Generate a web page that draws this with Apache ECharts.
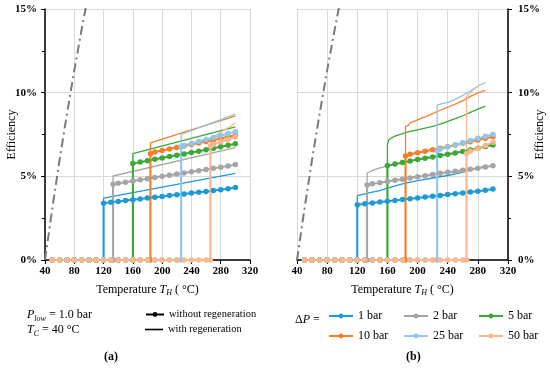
<!DOCTYPE html>
<html><head><meta charset="utf-8">
<script src="https://cdn.jsdelivr.net/npm/echarts@6/dist/echarts.min.js"></script>
<style>html,body{margin:0;padding:0;background:#fff}#c{width:550px;height:370px}</style>
</head><body><div id="c"></div>
<script>
const FONT = 'Liberation Serif';
const pressureNames = ['1 bar','2 bar','5 bar','10 bar','25 bar','50 bar'];
const pressureColors = ['#1e9bd7','#a5a5a5','#3aa935','#f57f29','#8fc6ec','#f9b78b'];
const tempSteps = [50,60,70,80,90,100,110,120,130,140,150,160,170,180,190,200,210,220,230,240,250,260,270,280,290,300];
const xTicks = [40,320,40];
const yTicks = [0,15,5];

// Carnot limit (dash-dot)
const carnotTemps = [40,50,60,70,80,90,100];
const carnotVals  = [0,3.09,6.00,8.74,11.33,13.77,16.08];

// ---- (a) thresholds & values (without regeneration: jump at threshold, then every 10 °C) ----
const thrA = [120,133,160,184,226,266];
const noRegenA1 = [3.39,3.45,3.50,3.55,3.60,3.65,3.70,3.75,3.80,3.85,3.90,3.95,4.00,4.05,4.10,4.15,4.20,4.26,4.33];
const noRegenA2 = [4.52,4.58,4.65,4.72,4.79,4.86,4.93,5.00,5.07,5.14,5.20,5.27,5.34,5.41,5.48,5.55,5.62,5.70];
const noRegenA3 = [5.76,5.85,5.93,6.02,6.10,6.18,6.26,6.34,6.42,6.50,6.59,6.68,6.77,6.86,6.95];
const noRegenA4 = [6.35,6.45,6.54,6.63,6.72,6.81,6.90,6.99,7.08,7.17,7.26,7.36,7.46];
const noRegenA5 = [6.77,6.85,6.96,7.08,7.20,7.32,7.44,7.56,7.67];
const noRegenA6 = [6.80,6.92,7.06,7.20,7.35];
// with regeneration (a): straight lines, threshold -> 300 °C
const regenTempsA = [[120,300],[133,300],[160,300],[184,300],[226,300],[266,300]];
const regenA1 = [3.70,5.18];
const regenA2 = [5.02,6.72];
const regenA3 = [6.35,7.95];
const regenA4 = [7.00,8.62];
const regenA5 = [7.50,8.72];
const regenA6 = [7.27,8.17];

// ---- (b) ----
const thrB = [120,133,160,184,226,265];
const noRegenB1 = [3.30,3.36,3.41,3.46,3.51,3.56,3.61,3.66,3.71,3.76,3.81,3.86,3.91,3.96,4.01,4.06,4.11,4.17,4.24];
const noRegenB2 = [4.48,4.55,4.62,4.69,4.76,4.83,4.90,4.97,5.04,5.11,5.18,5.25,5.31,5.37,5.43,5.49,5.56,5.63];
const noRegenB3 = [5.64,5.73,5.82,5.91,6.00,6.08,6.16,6.24,6.32,6.40,6.49,6.58,6.68,6.78,6.87];
const noRegenB4 = [6.22,6.32,6.41,6.50,6.59,6.68,6.77,6.87,6.97,7.07,7.17,7.27,7.37];
const noRegenB5 = [6.53,6.62,6.75,6.88,7.01,7.14,7.27,7.40,7.52];
const noRegenB6 = [6.37,6.50,6.66,6.84,7.03];
const regenTempsB1 = [120,130,140,150,160,180,200,220,240,260,280,290];
const regenB1      = [3.85,3.95,4.05,4.15,4.30,4.55,4.75,4.90,5.05,5.25,5.50,5.60];
const regenTempsB2 = [133,140,150,160,170,180,190,200,220,240,260,280,290];
const regenB2      = [5.20,5.35,5.50,5.62,5.72,5.82,5.91,6.00,6.16,6.32,6.49,6.68,6.78];
const regenTempsB3 = [160,162,170,180,190,200,210,220,230,240,250,260,270,280,290];
const regenB3      = [6.90,7.20,7.40,7.55,7.68,7.78,7.88,7.98,8.12,8.28,8.45,8.62,8.82,9.02,9.20];
const regenTempsB4 = [184,188,190,200,210,220,230,240,250,260,270,280,290];
const regenB4      = [8.00,8.05,8.20,8.38,8.55,8.75,8.95,9.13,9.32,9.52,9.78,9.98,10.14];
const regenTempsB5 = [226,230,240,250,260,270,280,290];
const regenB5      = [9.26,9.32,9.42,9.60,9.84,10.10,10.40,10.62];
const regenTempsB6 = [265,270,275,280];
const regenB6      = [9.80,10.00,10.20,10.38];

function buildNoRegen(thr, vals){
  const d = [];
  tempSteps.forEach(t => { if (t < thr) d.push([t,0]); });
  d.push([thr,0]); d.push([thr, vals[0]]);
  let k = 1;
  tempSteps.forEach(t => { if (t > thr && k < vals.length) d.push([t, vals[k++]]); });
  return d;
}
function buildRegen(temps, vals){
  const d = [[temps[0],0]];
  temps.forEach((t,i) => d.push([t, vals[i]]));
  return d;
}

const noRegenA = [noRegenA1,noRegenA2,noRegenA3,noRegenA4,noRegenA5,noRegenA6];
const regenA = [regenA1,regenA2,regenA3,regenA4,regenA5,regenA6];
const noRegenB = [noRegenB1,noRegenB2,noRegenB3,noRegenB4,noRegenB5,noRegenB6];
const regenB = [regenB1,regenB2,regenB3,regenB4,regenB5,regenB6];
const regenTempsB = [regenTempsB1,regenTempsB2,regenTempsB3,regenTempsB4,regenTempsB5,regenTempsB6];

const series = [];
[0,1].forEach(g => {
  const thr = g===0 ? thrA : thrB;
  const nr = g===0 ? noRegenA : noRegenB;
  const rg = g===0 ? regenA : regenB;
  const rt = g===0 ? regenTempsA : regenTempsB;
  pressureNames.forEach((n,i) => {
    series.push({type:'line', name:n+' regen', xAxisIndex:g, yAxisIndex:g, data: buildRegen(rt[i], rg[i]),
      symbol:'none', lineStyle:{color:pressureColors[i], width:1.3}, itemStyle:{color:pressureColors[i]}, z:2, animation:false});
  });
  pressureNames.forEach((n,i) => {
    series.push({type:'line', name:n, xAxisIndex:g, yAxisIndex:g, data: buildNoRegen(thr[i], nr[i]),
      symbol:'circle', symbolSize:5.5, showAllSymbol:true, lineStyle:{color:pressureColors[i], width:2},
      itemStyle:{color:pressureColors[i]}, z:3, animation:false});
  });
  series.push({type:'line', name:'Carnot'+g, xAxisIndex:g, yAxisIndex:g, data: carnotTemps.map((t,i)=>[t,carnotVals[i]]),
    symbol:'none', lineStyle:{color:'#7a7a7a', width:2, type:[9,4,2,4]}, z:4, animation:false});
});
series.push({type:'line', name:'without regeneration', xAxisIndex:0, yAxisIndex:0, data:[], symbol:'circle', symbolSize:5,
  lineStyle:{color:'#000', width:2}, itemStyle:{color:'#000'}});
series.push({type:'line', name:'with regeneration', xAxisIndex:0, yAxisIndex:0, data:[], symbol:'none',
  lineStyle:{color:'#000', width:1.5}, itemStyle:{color:'#000'}});

const nameRich = {
  a:{fontFamily:FONT, fontSize:12, color:'#000'},
  i:{fontFamily:FONT, fontSize:12, fontStyle:'italic', color:'#000'},
  s:{fontFamily:FONT, fontSize:8, fontStyle:'italic', color:'#000', padding:[7,0,0,0]}
};
function xAxis(g){
  return {type:'value', gridIndex:g, min:xTicks[0], max:xTicks[1], interval:xTicks[2],
    name:'{a|Temperature }{i|T}{s|H}{a| ( °C)}', nameLocation:'middle', nameGap:22,
    nameTextStyle:{rich:nameRich},
    axisLine:{show:true, onZero:true, lineStyle:{color:'#000', width:1.5}},
    axisTick:{show:true, length:4, lineStyle:{color:'#000'}},
    axisLabel:{fontFamily:FONT, fontWeight:'bold', fontSize:11, color:'#000', margin:6},
    splitLine:{show:true, lineStyle:{color:'#d9d9d9', width:1}}};
}
function yAxis(g){
  return {type:'value', gridIndex:g, min:yTicks[0], max:yTicks[1], interval:yTicks[2], position: g===0?'left':'right',
    name:'Efficiency', nameLocation:'middle', nameRotate:90, nameGap: g===0?27:26,
    nameMoveOverlap:false,
    nameTextStyle:{fontFamily:FONT, fontSize:12, color:'#000'},
    axisLine:{show:true, lineStyle:{color:'#000', width:1.5}},
    axisTick:{show:true, length:4, lineStyle:{color:'#000'}},
    minorTick:{show:true, splitNumber:2, length:3, lineStyle:{color:'#000'}},
    axisLabel:{formatter:'{value}%', fontFamily:FONT, fontWeight:'bold', fontSize:11, color:'#000', margin: g===0?8:10},
    splitLine:{show:true, lineStyle:{color:'#d9d9d9', width:1}}};
}

const legends = [
  {data:['without regeneration'], left:145, top:309, itemWidth:18, itemHeight:6, textStyle:{fontFamily:FONT, fontSize:10.5, color:'#000'}},
  {data:[{name:'with regeneration', icon:'rect'}], left:145, top:324, itemWidth:18, itemHeight:1.6, textStyle:{fontFamily:FONT, fontSize:10.5, color:'#000'}}
];
const legPos = [[328,310],[403,310],[478,310],[328,330],[403,330],[478,330]];
pressureNames.forEach((n,i) => legends.push({data:[n], left:legPos[i][0], top:legPos[i][1], itemWidth:24, itemHeight:6,
  textStyle:{fontFamily:FONT, fontSize:12, color:'#000'}}));
legends.forEach(l => { l.selectedMode = false; l.padding = 0; l.itemGap = 0; });

const chart = echarts.init(document.getElementById('c'), null, {renderer:'canvas'});
chart.setOption({
  animation:false,
  backgroundColor:'#fff',
  grid:[{left:45, top:9, width:205, height:251, outerBoundsMode:'none', containLabel:false},
        {left:297, top:9, width:211, height:251, outerBoundsMode:'none', containLabel:false}],
  xAxis:[xAxis(0), xAxis(1)],
  yAxis:[yAxis(0), yAxis(1)],
  legend: legends,
  graphic:[
    {type:'text', left:27, top:309, style:{text:'{i|P}{s|low}{a| = 1.0 bar}', rich:nameRich}},
    {type:'text', left:27, top:324, style:{text:'{i|T}{s|C}{a| = 40 °C}', rich:nameRich}},
    {type:'text', left:295, top:314, style:{text:'{a|Δ}{i|P}{a| =}', rich:nameRich}},
    {type:'text', left:104, top:351, style:{text:'(a)', font:'bold 12px "Liberation Serif"', fill:'#000'}},
    {type:'text', left:406, top:351, style:{text:'(b)', font:'bold 12px "Liberation Serif"', fill:'#000'}}
  ],
  series: series
});
</script></body></html>
